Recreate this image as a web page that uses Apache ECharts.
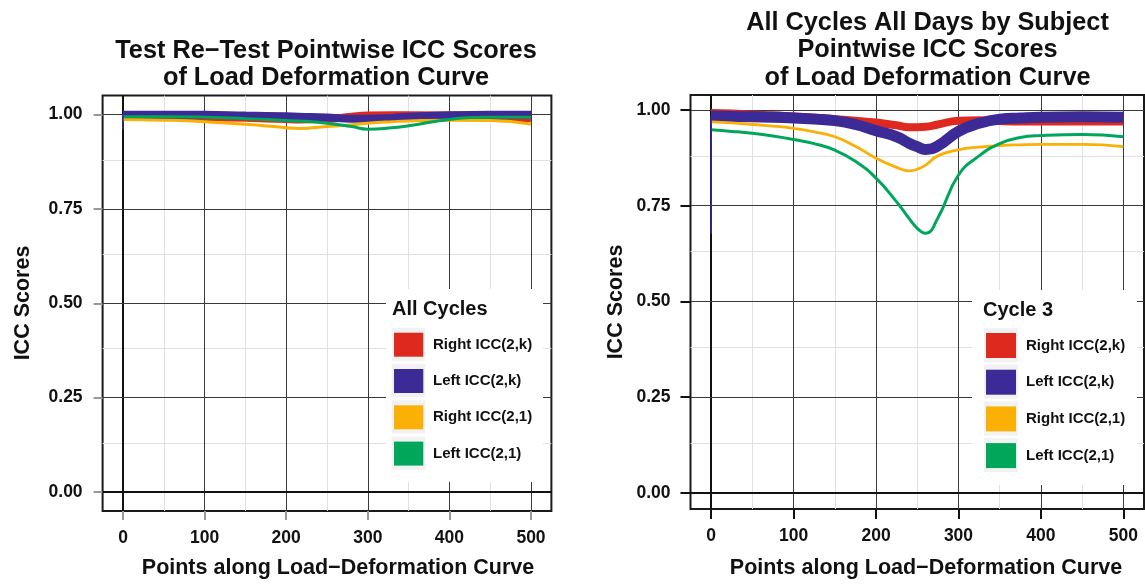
<!DOCTYPE html>
<html>
<head>
<meta charset="utf-8">
<script src="https://cdn.jsdelivr.net/npm/echarts@6/dist/echarts.min.js"></script>
<style>
html,body{margin:0;padding:0;background:#fff;}
#chart{width:1145px;height:584px;}
</style>
</head>
<body>
<div id="chart"></div>
<script>
// ---------- data ----------
const seriesNames = ['Right ICC(2,k)', 'Left ICC(2,k)', 'Right ICC(2,1)', 'Left ICC(2,1)'];

// Left panel: Test Re-Test, all cycles
const xLeft = [0, 50, 100, 150, 200, 215, 250, 280, 300, 330, 350, 400, 450, 500];
const leftRightK = [0.995, 0.995, 0.993, 0.991, 0.988, 0.987, 0.988, 0.994, 0.997, 0.998, 0.998, 0.997, 0.994, 0.990];
const leftLeftK  = [0.999, 0.999, 0.999, 0.997, 0.995, 0.994, 0.992, 0.989, 0.989, 0.991, 0.994, 0.998, 0.999, 0.999];
const leftRight1 = [0.987, 0.985, 0.981, 0.974, 0.965, 0.963, 0.968, 0.973, 0.977, 0.981, 0.983, 0.985, 0.984, 0.975];
const leftLeft1  = [0.994, 0.994, 0.9925, 0.989, 0.984, 0.983, 0.977, 0.968, 0.961, 0.965, 0.970, 0.987, 0.9925, 0.9925];
const leftStartX = [0, 0];
const leftStartY = [0.960, 0.999];

// Right panel: all cycles all days by subject, cycle 3
const xRight = [0, 25, 50, 75, 100, 125, 150, 175, 200, 225, 240, 250, 260, 275, 300, 325, 350, 375, 400, 450, 500];
const rightRightK = [0.992, 0.991, 0.988, 0.986, 0.983, 0.980, 0.976, 0.972, 0.967, 0.960, 0.955, 0.955, 0.956, 0.962, 0.972, 0.973, 0.971, 0.970, 0.970, 0.970, 0.970];
const rightLeftK  = [0.984, 0.983, 0.982, 0.981, 0.979, 0.976, 0.972, 0.962, 0.946, 0.930, 0.913, 0.904, 0.897, 0.906, 0.944, 0.965, 0.976, 0.979, 0.981, 0.982, 0.981];
const rightRight1 = [0.969, 0.966, 0.962, 0.958, 0.952, 0.943, 0.930, 0.905, 0.874, 0.850, 0.841, 0.845, 0.856, 0.880, 0.896, 0.903, 0.907, 0.909, 0.910, 0.910, 0.904];
const rightLeft1  = [0.948, 0.944, 0.939, 0.932, 0.923, 0.912, 0.895, 0.866, 0.822, 0.760, 0.717, 0.691, 0.678, 0.718, 0.830, 0.880, 0.912, 0.928, 0.933, 0.936, 0.930];
const rightStartX = [0, 0];
const rightStartY = [0.676, 0.984];

// ticks
const xTicks = [0, 100, 200, 300, 400, 500];
const xMinor = [50, 150, 250, 350, 450];
const yTicks = [0, 0.25, 0.5, 0.75, 1.0];
const yMinor = [0.125, 0.375, 0.625, 0.875];

// ---------- style ----------
const FONT = "'Liberation Sans', Arial, Helvetica, sans-serif";
const colors = ['#DE2A1E', '#3C2B97', '#FAB005', '#00A65A'];
const widthsLeft = [8, 8, 3, 3];
const widthsRight = [8, 11, 2.8, 3];

function zip(xs, ys) { return xs.map((x, i) => [x, ys[i]]); }

function gridLines(idx) {
  const data = [];
  xMinor.forEach(v => data.push({xAxis: v, lineStyle: {color: '#e0e0e0', width: 1, type: 'solid'}}));
  yMinor.forEach(v => data.push({yAxis: v, lineStyle: {color: '#e0e0e0', width: 1, type: 'solid'}}));
  xTicks.forEach(v => data.push({xAxis: v, lineStyle: {color: v === 0 ? '#111' : '#3a3a3a', width: v === 0 ? 2 : 1, type: 'solid'}}));
  yTicks.forEach(v => data.push({yAxis: v, lineStyle: {color: v === 0 ? '#111' : '#3a3a3a', width: v === 0 ? 2 : 1, type: 'solid'}}));
  return {
    type: 'line', xAxisIndex: idx, yAxisIndex: idx, data: [], z: 1, silent: true,
    markLine: {silent: true, z: 1, symbol: ['none', 'none'], label: {show: false}, animation: false, data: data}
  };
}

function dataSeries(idx, xs, arrays, widths, startX, startY) {
  const out = arrays.map((arr, i) => ({
    type: 'line', name: seriesNames[i], xAxisIndex: idx, yAxisIndex: idx,
    data: zip(xs, arr), smooth: 0.5, showSymbol: false, symbol: 'none',
    color: colors[i], lineStyle: {color: colors[i], width: widths[i], cap: 'butt'}, z: 2 + i * 0.1
  }));
  out.push({
    type: 'line', name: 'start', xAxisIndex: idx, yAxisIndex: idx,
    data: zip(startX, startY), showSymbol: false, symbol: 'none',
    lineStyle: {color: colors[1], width: 1.5}, z: 2.5
  });
  return out;
}

function xAxisCfg(idx, tickColor, tickLen) {
  return {
    type: 'value', gridIndex: idx, min: -25, max: 525,
    axisLine: {show: false, onZero: false},
    splitLine: {show: false},
    axisTick: {show: true, customValues: xTicks, length: tickLen, lineStyle: {color: tickColor, width: 2}},
    axisLabel: {customValues: xTicks, margin: 18, color: '#111', fontSize: 17.5, fontWeight: 'bold', fontFamily: FONT}
  };
}
function yAxisCfg(idx, min, max, tickColor, tickLen) {
  return {
    type: 'value', gridIndex: idx, min: min, max: max,
    axisLine: {show: false, onZero: false},
    splitLine: {show: false},
    axisTick: {show: true, customValues: yTicks, length: tickLen, lineStyle: {color: tickColor, width: 2}},
    axisLabel: {customValues: yTicks, margin: 20, color: '#111', fontSize: 17.5, fontWeight: 'bold', fontFamily: FONT,
      formatter: v => Number(v).toFixed(2)}
  };
}

function txt(text, x, y, size, align, rot) {
  const el = {
    type: 'text', x: x, y: y, z: 10, silent: true,
    style: {text: text, fill: '#111', font: 'bold ' + size + 'px ' + FONT, textAlign: align || 'center', textVerticalAlign: 'middle'}
  };
  if (rot) el.rotation = rot;
  return el;
}
function rect(x, y, w, h, fill, z) {
  return {type: 'rect', z: z, silent: true, shape: {x: x, y: y, width: w, height: h}, style: {fill: fill}};
}

function legendGraphics(box, title, titleX, titleY, bgX, bgY, bgS, keyX, keyY, keyW, keyH, pitch, textX) {
  const g = [rect(box[0], box[1], box[2], box[3], '#ffffff', 3), txt(title, titleX, titleY, 20, 'left')];
  seriesNames.forEach((name, k) => {
    g.push(rect(bgX, bgY + k * pitch, bgS, bgS, '#f2f2f2', 4));
    g.push(rect(keyX, keyY + k * pitch, keyW, keyH, colors[k], 5));
    g.push(txt(name, textX, keyY + k * pitch + keyH / 2, 15, 'left'));
  });
  return g;
}

const graphics = [
  txt('Test Re\u2212Test Pointwise ICC Scores', 326, 51.5, 25.3),
  txt('of Load Deformation Curve', 326, 78.2, 25.3),
  txt('All Cycles All Days by Subject', 927.5, 22.7, 25.3),
  txt('Pointwise ICC Scores', 927.5, 50.3, 25.3),
  txt('of Load Deformation Curve', 927.5, 77.8, 25.3),
  txt('Points along Load\u2212Deformation Curve', 338, 568, 21.5),
  txt('Points along Load\u2212Deformation Curve', 926, 568, 21.5),
  txt('ICC Scores', 23, 303, 21.5, 'center', Math.PI / 2),
  txt('ICC Scores', 616, 302, 21.5, 'center', Math.PI / 2)
].concat(
  legendGraphics([386, 289, 157, 193], 'All Cycles', 392, 309, 391.7, 327.7, 33.3, 394, 332.7, 29.3, 24, 36.3, 433),
  legendGraphics([972, 290, 165, 195], 'Cycle 3', 983, 310, 984, 328, 34, 986, 333, 30, 25, 36.7, 1026)
);

const option = {
  animation: false,
  backgroundColor: '#ffffff',
  grid: [
    {left: 102.6, top: 95.6, width: 448.8, height: 415.3, show: true, borderColor: '#1a1a1a', borderWidth: 2, backgroundColor: 'transparent'},
    {left: 690.5, top: 95, width: 453.5, height: 414, show: true, borderColor: '#1a1a1a', borderWidth: 2, backgroundColor: 'transparent'}
  ],
  xAxis: [xAxisCfg(0, '#999999', 9), xAxisCfg(1, '#111111', 10)],
  yAxis: [yAxisCfg(0, -0.05, 1.05, '#999999', 9), yAxisCfg(1, -0.042, 1.039, '#111111', 10)],
  graphic: graphics,
  series: [].concat(
    [gridLines(0), gridLines(1)],
    dataSeries(0, xLeft, [leftRightK, leftLeftK, leftRight1, leftLeft1], widthsLeft, leftStartX, leftStartY),
    dataSeries(1, xRight, [rightRightK, rightLeftK, rightRight1, rightLeft1], widthsRight, rightStartX, rightStartY)
  )
};

const chart = echarts.init(document.getElementById('chart'), null, {renderer: 'canvas'});
chart.setOption(option);
</script>
</body>
</html>
